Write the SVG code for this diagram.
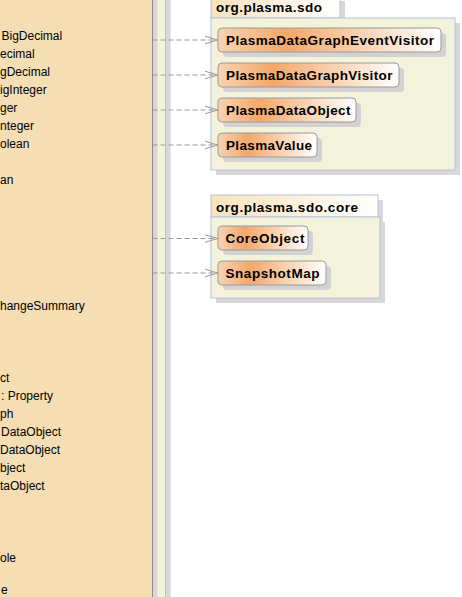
<svg xmlns="http://www.w3.org/2000/svg" width="462" height="597" viewBox="0 0 462 597">
<style>
.lt{font-family:"Liberation Sans",Arial,sans-serif;font-size:12px;fill:#000}
.nt{font-family:"Liberation Sans",Arial,sans-serif;font-size:13.5px;font-weight:bold;fill:#000}
.pk{fill:#F3F3DC;stroke:#B8C0D8;stroke-width:1}
.tab{fill:url(#tabg);stroke:#B8C0D8;stroke-width:1}
.sh{fill:#D8D8D8}
.node{fill:url(#ng);stroke:#9A9A9A;stroke-width:1}
.nsh{fill:#D2D2D2}
.con{fill:none;stroke:#999;stroke-width:1;stroke-dasharray:5,3}
</style>
<defs>
<linearGradient id="ng" x1="0" y1="0" x2="1" y2="0">
<stop offset="0" stop-color="#F9D3B2"/>
<stop offset="0.3" stop-color="#F2A86A"/>
<stop offset="1" stop-color="#FFFFFF"/>
</linearGradient>
<linearGradient id="tabg" x1="0" y1="0" x2="1" y2="0">
<stop offset="0" stop-color="#F7E2BC"/>
<stop offset="1" stop-color="#FFFFFF"/>
</linearGradient>
<marker id="arr" markerUnits="userSpaceOnUse" markerWidth="16" markerHeight="12" refX="13" refY="5" orient="auto">
<path d="M0,1 L13,5 L0,9" fill="none" stroke="#999" stroke-width="1"/>
</marker>
</defs>
<rect width="462" height="597" fill="#FFFFFF"/>

<g id="outer-package">
<rect class="sh" x="-15" y="-15" width="185.5" height="640"/>
<rect class="pk" x="-20" y="-20" width="185.5" height="640"/>
</g>

<g id="left-class">
<rect class="sh" x="-5" y="-5" width="162.5" height="620"/>
<rect x="-10" y="-10" width="162.5" height="620" fill="#F5DEB3" stroke="#8C8C8C" stroke-width="1"/>
<text class="lt" x="1.5" y="39.5">BigDecimal</text>
<text class="lt" x="0" y="57.5">ecimal</text>
<text class="lt" x="0" y="75.5">gDecimal</text>
<text class="lt" x="0" y="93.5">igInteger</text>
<text class="lt" x="0" y="111.5">ger</text>
<text class="lt" x="0" y="129.5">nteger</text>
<text class="lt" x="0" y="147.5">olean</text>
<text class="lt" x="0" y="183.5">an</text>
<text class="lt" x="0" y="309.5">hangeSummary</text>
<text class="lt" x="0" y="381.5">ct</text>
<text class="lt" x="1" y="399.5">: Property</text>
<text class="lt" x="0" y="417.5">ph</text>
<text class="lt" x="1" y="435.5">DataObject</text>
<text class="lt" x="0" y="453.5">DataObject</text>
<text class="lt" x="0" y="471.5">bject</text>
<text class="lt" x="0" y="489.5">taObject</text>
<text class="lt" x="0" y="561.5">ole</text>
<text class="lt" x="1" y="593.5">e</text>
</g>

<g id="pkg-sdo">
<rect class="sh" x="216" y="1" width="129" height="22"/>
<rect class="sh" x="216" y="23" width="244" height="152"/>
<rect class="tab" x="211" y="-4" width="129" height="22"/>
<rect class="pk" x="211" y="18" width="244" height="152"/>
<text class="nt" x="216" y="12" textLength="106">org.plasma.sdo</text>
</g>

<g id="node-PlasmaDataGraphEventVisitor">
<rect class="nsh" x="223" y="33" width="223" height="24" rx="4"/>
<rect class="node" x="218" y="28" width="223" height="24" rx="4"/>
<text class="nt" x="226" y="45" textLength="208">PlasmaDataGraphEventVisitor</text>
</g>
<g id="node-PlasmaDataGraphVisitor">
<rect class="nsh" x="223" y="68" width="181" height="24" rx="4"/>
<rect class="node" x="218" y="63" width="181" height="24" rx="4"/>
<text class="nt" x="226" y="80" textLength="166.5">PlasmaDataGraphVisitor</text>
</g>
<g id="node-PlasmaDataObject">
<rect class="nsh" x="223" y="103" width="138" height="24" rx="4"/>
<rect class="node" x="218" y="98" width="138" height="24" rx="4"/>
<text class="nt" x="226" y="115" textLength="124.5">PlasmaDataObject</text>
</g>
<g id="node-PlasmaValue">
<rect class="nsh" x="223" y="138" width="99" height="24" rx="4"/>
<rect class="node" x="218" y="133" width="99" height="24" rx="4"/>
<text class="nt" x="226" y="150" textLength="86">PlasmaValue</text>
</g>

<g id="pkg-sdo-core">
<rect class="sh" x="216" y="200" width="167" height="22"/>
<rect class="sh" x="216" y="222" width="169" height="81"/>
<rect class="tab" x="211" y="195" width="167" height="22"/>
<rect class="pk" x="211" y="217" width="169" height="81"/>
<text class="nt" x="216" y="211.5" textLength="142">org.plasma.sdo.core</text>
</g>

<g id="node-CoreObject">
<rect class="nsh" x="223" y="231" width="90" height="24" rx="4"/>
<rect class="node" x="218" y="226" width="90" height="24" rx="4"/>
<text class="nt" x="225.5" y="243" textLength="79">CoreObject</text>
</g>
<g id="node-SnapshotMap">
<rect class="nsh" x="223" y="266" width="108" height="24" rx="4"/>
<rect class="node" x="218" y="261" width="108" height="24" rx="4"/>
<text class="nt" x="225.5" y="278" textLength="94">SnapshotMap</text>
</g>

<g id="connectors">
<path class="con" d="M152.5,40 L217.5,40" marker-end="url(#arr)"/>
<path class="con" d="M152.5,75 L217.5,75" marker-end="url(#arr)"/>
<path class="con" d="M152.5,110 L217.5,110" marker-end="url(#arr)"/>
<path class="con" d="M152.5,145 L217.5,145" marker-end="url(#arr)"/>
<path class="con" d="M152.5,238.5 L217.5,238.5" marker-end="url(#arr)"/>
<path class="con" d="M152.5,273 L217.5,273" marker-end="url(#arr)"/>
</g>
</svg>
